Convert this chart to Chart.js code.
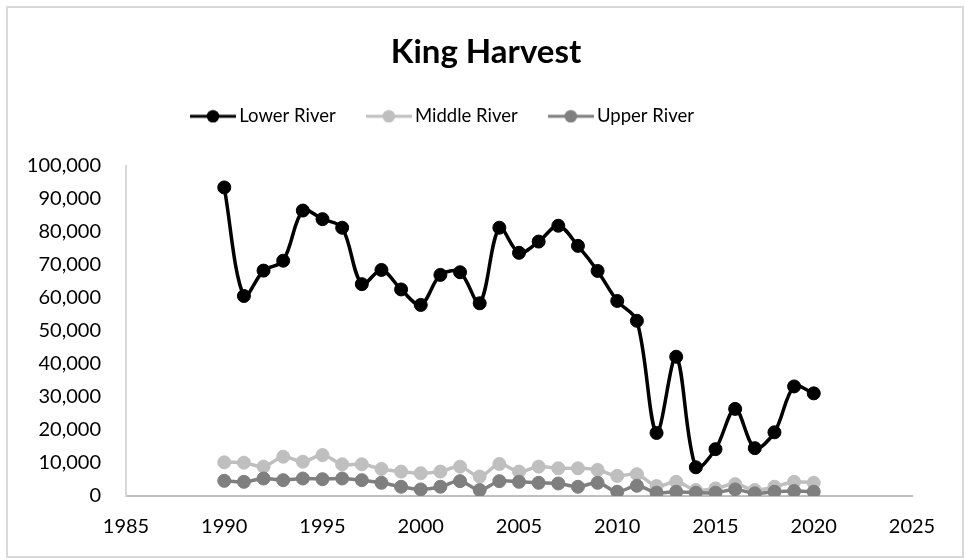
<!DOCTYPE html>
<html><head><meta charset="utf-8">
<script src="https://cdn.jsdelivr.net/npm/chart.js@4.4.1/dist/chart.umd.min.js"></script>
<style>html,body{margin:0;padding:0;background:#fff}canvas{display:block}</style>
</head><body>
<canvas id="c" width="965" height="560"></canvas>
<script>
const years = [1990,1991,1992,1993,1994,1995,1996,1997,1998,1999,2000,2001,2002,2003,2004,2005,2006,2007,2008,2009,2010,2011,2012,2013,2014,2015,2016,2017,2018,2019,2020];
const lowerRiver = [93500,60600,68300,71300,86500,83900,81300,64200,68500,62600,57900,67000,67800,58400,81300,73700,77100,81900,75800,68200,59100,53100,19100,42200,8700,14200,26400,14500,19300,33200,31100];
const middleRiver = [10200,10100,8900,11900,10400,12400,9600,9600,8200,7400,6900,7400,8900,5900,9700,7400,8900,8400,8400,7900,6100,6600,3000,4300,1800,2300,3600,1800,2800,4300,4000];
const upperRiver = [4600,4300,5300,4800,5300,5100,5300,4800,4000,2800,2000,2800,4500,1800,4500,4300,4000,3800,2800,4000,1300,3100,1000,1300,1000,1000,2000,800,1300,1500,1300];
const seriesNames = ['Lower River','Middle River','Upper River'];
const seriesColors = ['#000000','#BFBFBF','#7F7F7F'];
const xTicks = [1985,1990,1995,2000,2005,2010,2015,2020,2025];
const yTicks = [0,10000,20000,30000,40000,50000,60000,70000,80000,90000,100000];
const chartTitle = 'King Harvest';

function legendIcon(color){
  const c = document.createElement('canvas'); c.width = 46; c.height = 14;
  const g = c.getContext('2d');
  g.strokeStyle = color; g.lineWidth = 3;
  g.beginPath(); g.moveTo(0,7); g.lineTo(46,7); g.stroke();
  g.fillStyle = color; g.beginPath(); g.arc(23,7,6.3,0,Math.PI*2); g.fill();
  return c;
}
const icons = seriesColors.map(legendIcon);

const seriesValues = [lowerRiver, middleRiver, upperRiver];
const datasets = seriesNames.map((name,i)=>({
  label: name,
  data: years.map((yr,j)=>({x: yr, y: seriesValues[i][j]})),
  borderColor: seriesColors[i],
  backgroundColor: seriesColors[i],
  pointBackgroundColor: seriesColors[i],
  pointBorderColor: seriesColors[i],
  borderWidth: 3.5,
  pointRadius: 6.5,
  pointBorderWidth: 1,
  tension: 0.33,
  order: 2 - i
}));

const frame = { id:'frame', beforeDraw(chart){
  const ctx = chart.ctx; ctx.save();
  ctx.fillStyle = '#fff'; ctx.fillRect(0,0,chart.width,chart.height);
  ctx.strokeStyle = '#D9D9D9'; ctx.lineWidth = 2; ctx.strokeRect(7,7,956,550);
  ctx.restore();
}};
const place = { id:'place', afterUpdate(chart){
  const lg = chart.legend;
  if (lg && lg.legendHitBoxes && lg.legendHitBoxes.length){
    const hb = lg.legendHitBoxes[0];
    const dx = 196 - hb.left;
    const dy = 116.3 - (hb.top + hb.height/2);
    lg.left += dx; lg.right += dx; lg.top += dy; lg.bottom += dy;
  }
  const t = chart.titleBlock;
  if (t){ const dx = 486 - (t.left + t.right)/2; t.left += dx; t.right += dx; }
}};

new Chart(document.getElementById('c'), {
  type: 'line',
  data: { datasets },
  plugins: [frame, place],
  options: {
    responsive: false,
    animation: false,
    layout: { padding: { left: 0, right: 53, top: 0, bottom: 0 } },
    plugins: {
      title: { display: true, text: chartTitle, color: '#000',
        font: { family: 'Lato', size: 33, weight: 'bold', lineHeight: 1.2 },
        padding: { top: 33, bottom: 28.9 } },
      legend: { display: true, position: 'top',
        labels: { usePointStyle: true, pointStyleWidth: 34, padding: 36, color: '#000',
          font: { family: 'Lato', size: 18.5 },
          sort: (a,b) => a.datasetIndex - b.datasetIndex,
          generateLabels(chart){
            const items = Chart.defaults.plugins.legend.labels.generateLabels(chart);
            items.forEach(it => { it.pointStyle = icons[it.datasetIndex]; });
            return items;
          } } },
      tooltip: { enabled: false }
    },
    scales: {
      x: { type: 'linear', min: 1985, max: 2025,
        afterBuildTicks: s => { s.ticks = xTicks.map(v => ({value: v})); },
        afterFit: s => { s.height = 64; },
        ticks: { font: { family: 'Lato', size: 20 }, color: '#000', padding: 19, maxRotation: 0, autoSkip: false, callback: v => String(v) },
        grid: { display: false, drawTicks: false },
        border: { display: true, color: '#BFBFBF', width: 2 } },
      y: { min: 0, max: 100000,
        afterBuildTicks: s => { s.ticks = yTicks.map(v => ({value: v})); },
        afterFit: s => { s.width = 126; },
        ticks: { font: { family: 'Lato', size: 20 }, color: '#000', padding: 25, autoSkip: false, callback: v => Number(v).toLocaleString('en-US') },
        grid: { display: false, drawTicks: false },
        border: { display: true, color: '#D9D9D9', width: 2 } }
    }
  }
});
</script>
</body></html>
